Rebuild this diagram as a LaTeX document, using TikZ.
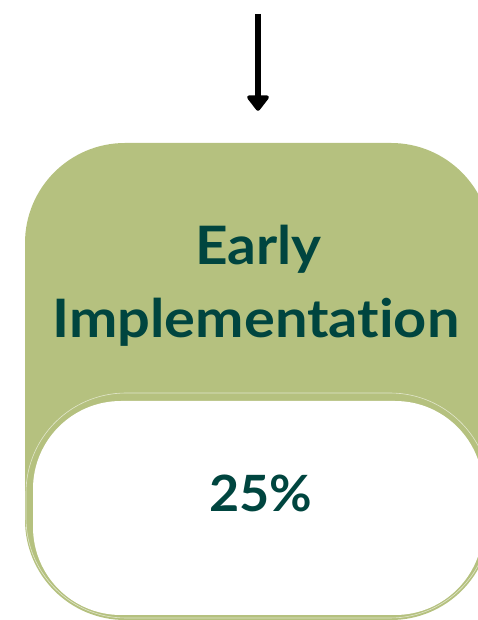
\documentclass[tikz,border=0pt]{standalone}
\usepackage{fontspec}
\setmainfont{Lato}[Ligatures=CommonOff]
\usetikzlibrary{arrows.meta}
\definecolor{boxgreen}{HTML}{B5C17F}
\definecolor{tealtext}{HTML}{00453F}
\begin{document}
\begin{tikzpicture}[x=1pt,y=1pt,
  outerbox/.style={fill=boxgreen, draw=none, rounded corners=100pt, minimum width=466pt, minimum height=477pt, inner sep=0pt},
  innerbox/.style={fill=white, draw=none, rounded corners=88pt, minimum width=450pt, minimum height=214pt, inner sep=0pt},
  label/.style={text=tealtext, font=\bfseries\fontsize{53}{60}\selectfont, anchor=base, inner sep=0pt},
  flowarrow/.style={line width=6pt, -{Triangle[width=25pt,length=17pt,round]}}]
\useasboundingbox (0,0) rectangle (478,620);
\node[outerbox] (box) at (258,238.5) {};
\draw[white, line width=0.6pt, opacity=0.6, rounded corners=100pt] (26,2) rectangle (490,227);
\node[innerbox] (pct) at (258,112) {};
\node[label] (t1) at (258.5,355) {\scalebox{1.07}[1]{Early}};
\node[label] (t2) at (256,282) {\scalebox{1.09}[1]{Implementation}};
\node[label, font=\bfseries\fontsize{50}{56}\selectfont] (t3) at (261,108) {\scalebox{1.04}[1]{25\%}};
\coordinate (start) at (258,606);
\draw[flowarrow] (start) -- ([yshift=32pt]box.north);
\end{tikzpicture}
\end{document}
